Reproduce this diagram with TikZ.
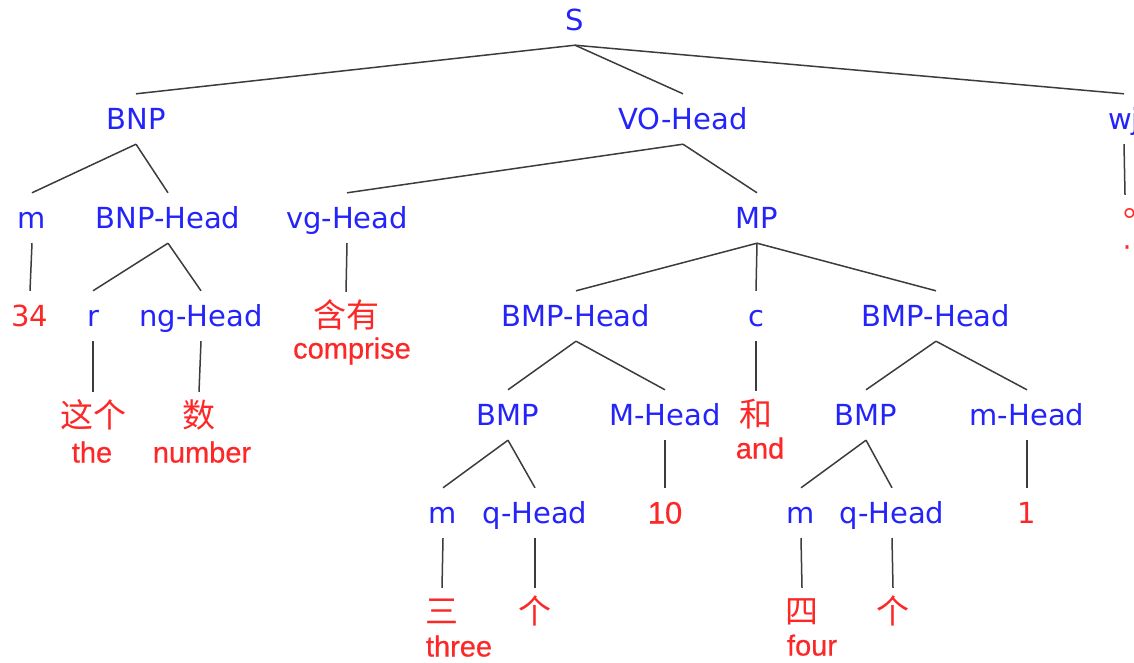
\documentclass[tikz,border=0pt]{standalone}
\usepackage{fontspec}
\setmainfont{DejaVu Sans}
\newfontfamily\cjk{Noto Sans CJK SC}
\newfontfamily\enfont{Liberation Sans}[FakeBold=0.6]
\definecolor{catblue}{RGB}{35,35,250}
\definecolor{wordred}{RGB}{252,40,40}
\definecolor{edgegray}{RGB}{60,60,60}
\tikzset{
  cat/.style={font=\fontsize{29}{29}\selectfont, text=catblue, inner sep=0pt,
    text height=21pt, text depth=0pt, minimum height=50pt},
  num/.style={font=\fontsize{29}{29}\selectfont, text=wordred, inner sep=0pt,
    text height=21pt, text depth=0pt, minimum height=50pt},
  numen/.style={num, font=\enfont\fontsize{31}{31}\selectfont},
  hanzi/.style={font=\cjk\fontsize{33}{33}\selectfont, text=wordred, inner sep=0pt,
    text height=26.4pt, text depth=2.6pt, minimum height=48pt},
  gloss/.style={font=\enfont\fontsize{29}{29}\selectfont, text=wordred, inner sep=0pt,
    text height=21pt, text depth=0pt},
  branch/.style={draw=edgegray, line width=1.5pt}
}
\begin{document}
\begin{tikzpicture}[x=1pt,y=-1pt]
\useasboundingbox (0,0) rectangle (1134,662);
\clip (0,0) rectangle (1134,662);

% root and first level
\node[cat] (S) at (575,20) {S};
\node[cat] (bnp) at (136,119) {BNP};
\node[cat] (vo) at (683,119) {VO-Head};
\node[cat] (wj) at (1124,119) {wj};

% second level
\node[cat] (m1) at (32,218) {m};
\node[cat] (bnph) at (168,218) {BNP-Head};
\node[cat] (vg) at (347,218) {vg-Head};
\node[cat] (mp) at (757,218) {MP};
\node[hanzi] (stop) at (1125,219) {\makebox[0pt][l]{\hspace{-2pt}\raisebox{14pt}{。}}};
\node[gloss] (stopen) at (1127,238) {.};

% third level
\node[num] (n34) at (30,316) {34};
\node[cat] (r) at (93,316) {r};
\node[cat] (ng) at (201,316) {ng-Head};
\node[hanzi] (hanyou) at (346,316) {含有};
\node[gloss] (comprise) at (352,348) {comprise};
\node[cat] (bmph1) at (576,316) {BMP-Head};
\node[cat] (c) at (756,316) {c};
\node[cat] (bmph2) at (936,316) {BMP-Head};

% fourth level
\node[hanzi] (zhege) at (93,416) {这个};
\node[gloss] (the) at (92,452) {the};
\node[hanzi] (shu) at (199,416) {数};
\node[gloss] (number) at (202,452) {number};
\node[cat] (bmp1) at (508,415) {BMP};
\node[cat] (mh) at (665,415) {M-Head};
\node[hanzi] (he) at (756,415) {和};
\node[gloss] (and) at (760,448) {and};
\node[cat] (bmp2) at (866,415) {BMP};
\node[cat] (mlh) at (1027,415) {m-Head};

% fifth level
\node[cat] (m2) at (443,513) {m};
\node[cat] (q1) at (535,513) {q-Head};
\node[numen] (n10) at (665,513) {10};
\node[cat] (m3) at (801,513) {m};
\node[cat] (q2) at (892,513) {q-Head};
\node[num] (n1) at (1027,513) {1};

% sixth level
\node[hanzi] (san) at (442,612) {三};
\node[gloss] (three) at (459,646) {three};
\node[hanzi] (ge1) at (535,612) {个};
\node[hanzi] (si) at (802,612) {四};
\node[gloss] (four) at (812,645) {four};
\node[hanzi] (ge2) at (893,612) {个};

% branches
\draw[branch] (S.south) -- (bnp.north);
\draw[branch] (S.south) -- (vo.north);
\draw[branch] (S.south) -- (wj.north);
\draw[branch] (bnp.south) -- (m1.north);
\draw[branch] (bnp.south) -- (bnph.north);
\draw[branch] (vo.south) -- (vg.north);
\draw[branch] (vo.south) -- (mp.north);
\draw[branch] (wj.south) -- (stop.north);
\draw[branch] (m1.south) -- (n34.north);
\draw[branch] (bnph.south) -- (r.north);
\draw[branch] (bnph.south) -- (ng.north);
\draw[branch] (vg.south) -- (hanyou.north);
\draw[branch] (mp.south) -- (bmph1.north);
\draw[branch] (mp.south) -- (c.north);
\draw[branch] (mp.south) -- (bmph2.north);
\draw[branch] (r.south) -- (zhege.north);
\draw[branch] (ng.south) -- (shu.north);
\draw[branch] (bmph1.south) -- (bmp1.north);
\draw[branch] (bmph1.south) -- (mh.north);
\draw[branch] (c.south) -- (he.north);
\draw[branch] (bmph2.south) -- (bmp2.north);
\draw[branch] (bmph2.south) -- (mlh.north);
\draw[branch] (bmp1.south) -- (m2.north);
\draw[branch] (bmp1.south) -- (q1.north);
\draw[branch] (mh.south) -- (n10.north);
\draw[branch] (bmp2.south) -- (m3.north);
\draw[branch] (bmp2.south) -- (q2.north);
\draw[branch] (mlh.south) -- (n1.north);
\draw[branch] (m2.south) -- (san.north);
\draw[branch] (q1.south) -- (ge1.north);
\draw[branch] (m3.south) -- (si.north);
\draw[branch] (q2.south) -- (ge2.north);
\end{tikzpicture}
\end{document}
